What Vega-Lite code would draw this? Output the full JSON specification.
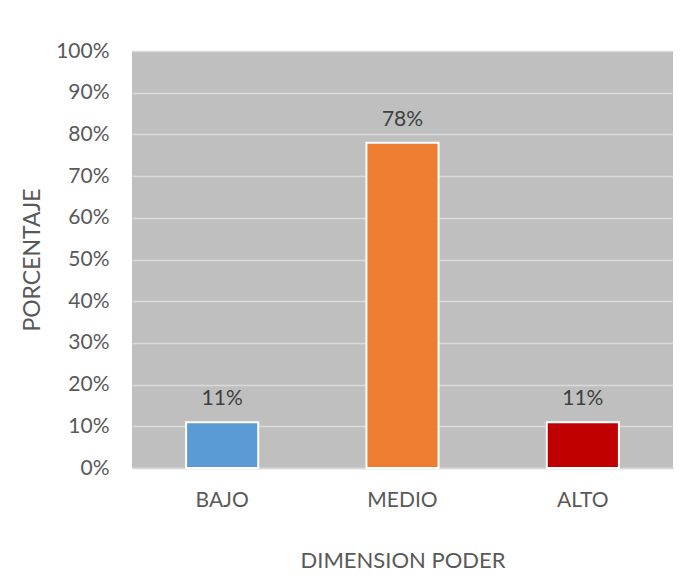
{
  "$schema": "https://vega.github.io/schema/vega-lite/v6.json",
  "width": 541,
  "height": 417,
  "autosize": {"type": "none"},
  "padding": {"left": 132, "top": 51, "right": 21, "bottom": 119},
  "background": "white",
  "data": {"values": [
    {"cat": "BAJO", "pct": 0.11, "color": "#5b9bd5"},
    {"cat": "MEDIO", "pct": 0.78, "color": "#ed7d31"},
    {"cat": "ALTO", "pct": 0.11, "color": "#c00000"}
  ]},
  "config": {
    "view": {"fill": "#bfbfbf", "stroke": null},
    "font": "Lato",
    "axis": {"labelColor": "#595959", "titleColor": "#595959", "labelFont": "Lato", "titleFont": "Lato", "labelFontSize": 21, "titleFontSize": 22, "titleFontWeight": "normal", "labelOverlap": false}
  },
  "encoding": {
    "x": {"field": "cat", "type": "nominal", "sort": null,
      "scale": {"paddingInner": 0.6, "paddingOuter": 0.3},
      "axis": {"title": "DIMENSION PODER", "labelAngle": 0, "ticks": false, "domainColor": "#d9d9d9", "domainWidth": 1.5, "labelPadding": 21, "titlePadding": 40}},
    "y": {"field": "pct", "type": "quantitative",
      "scale": {"domain": [0, 1]},
      "axis": {"title": "PORCENTAJE", "titleFontSize": 23, "format": ".0%", "values": [0,0.1,0.2,0.3,0.4,0.5,0.6,0.7,0.8,0.9,1], "ticks": false, "domain": false, "labelPadding": 23, "titlePadding": 11, "gridColor": "#d9d9d9", "gridWidth": 1.5}}
  },
  "layer": [
    {"mark": {"type": "bar", "stroke": "white", "strokeWidth": 2},
     "encoding": {"color": {"field": "color", "type": "nominal", "scale": null}}},
    {"mark": {"type": "text", "baseline": "alphabetic", "dy": -17, "fontSize": 21, "color": "#404040", "font": "Lato"},
     "encoding": {"text": {"field": "pct", "type": "quantitative", "format": ".0%"}}}
  ]
}
